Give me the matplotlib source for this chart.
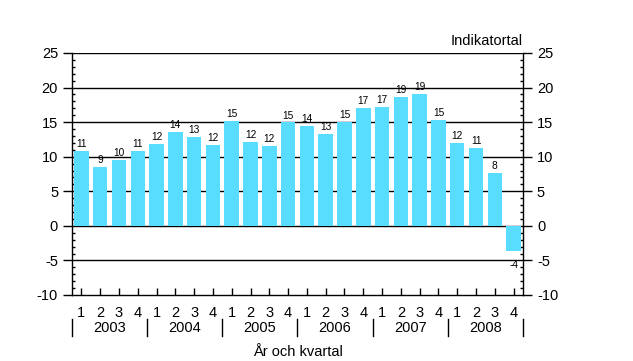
import numpy as np
import matplotlib
matplotlib.use("Agg")
import matplotlib.pyplot as plt
from matplotlib.lines import Line2D

plt.rcParams["font.family"] = ["Liberation Sans", "DejaVu Sans"]
plt.rcParams["axes.unicode_minus"] = False

years = ["2003", "2004", "2005", "2006", "2007", "2008"]
quarters = ["1", "2", "3", "4"]
values = [10.85, 8.5, 9.55, 10.85,
          11.85, 13.6, 12.85, 11.7,
          15.2, 12.15, 11.6, 14.95,
          14.45, 13.3, 15.05, 17.05,
          17.2, 18.65, 19.1, 15.3,
          12.0, 11.3, 7.65, -3.6]
labels = [11, 9, 10, 11, 12, 14, 13, 12, 15, 12, 12, 15,
          14, 13, 15, 17, 17, 19, 19, 15, 12, 11, 8, -4]

bar_color = "#58DCFF"

fig = plt.figure(figsize=(6.33, 3.61), dpi=100)
ax = fig.add_axes([72 / 633, 66 / 361, 451 / 633, 242 / 361])

x = np.arange(len(values))
ax.bar(x, values, width=0.77, color=bar_color, zorder=2)

for xi, v, lab in zip(x, values, labels):
    if v >= 0:
        ax.text(xi, v + 0.25, str(lab), ha="center", va="bottom", fontsize=7.3, zorder=3)
    else:
        ax.text(xi, v - 1.3, str(lab), ha="center", va="top", fontsize=7.3, zorder=3)

ax.set_xlim(-0.5, len(values) - 0.5)
ax.set_ylim(-10, 25)

for yv in range(-5, 26, 5):
    ax.axhline(yv, color="black", lw=1, zorder=1)

ax.spines["top"].set_visible(False)
for s in ["left", "right", "bottom"]:
    ax.spines[s].set_linewidth(1)
    ax.spines[s].set_color("black")

ax.set_yticks(range(-10, 26, 5))
ax.set_yticks(range(-10, 26, 1), minor=True)
ax.tick_params(axis="y", which="major", direction="out", length=6.5, width=1,
               labelsize=10.5, pad=3.5, left=True, right=True,
               labelleft=True, labelright=True)
ax.tick_params(axis="y", which="minor", direction="in", length=2, width=1,
               left=True, right=True)

ax.set_xticks(x)
ax.set_xticklabels(quarters * len(years))
ax.tick_params(axis="x", which="major", direction="in", length=5, width=1,
               labelsize=10.5, pad=8)

# year labels and separators
trans = ax.get_xaxis_transform()
for i, yr in enumerate(years):
    ax.text(i * 4 + 1.5, -0.135, yr, transform=trans, ha="center", va="center",
            fontsize=10.5, clip_on=False)
for i in range(len(years) + 1):
    ax.add_line(Line2D([i * 4 - 0.5, i * 4 - 0.5], [-0.10, -0.17], transform=trans,
                       color="black", lw=1, clip_on=False))

fig.text(298 / 633, 1 - 352 / 361, "År och kvartal", ha="center", va="center", fontsize=10.5)
fig.text(523 / 633, 1 - 41 / 361, "Indikatortal", ha="right", va="center", fontsize=10.5)

fig.savefig("out.png", dpi=100)
